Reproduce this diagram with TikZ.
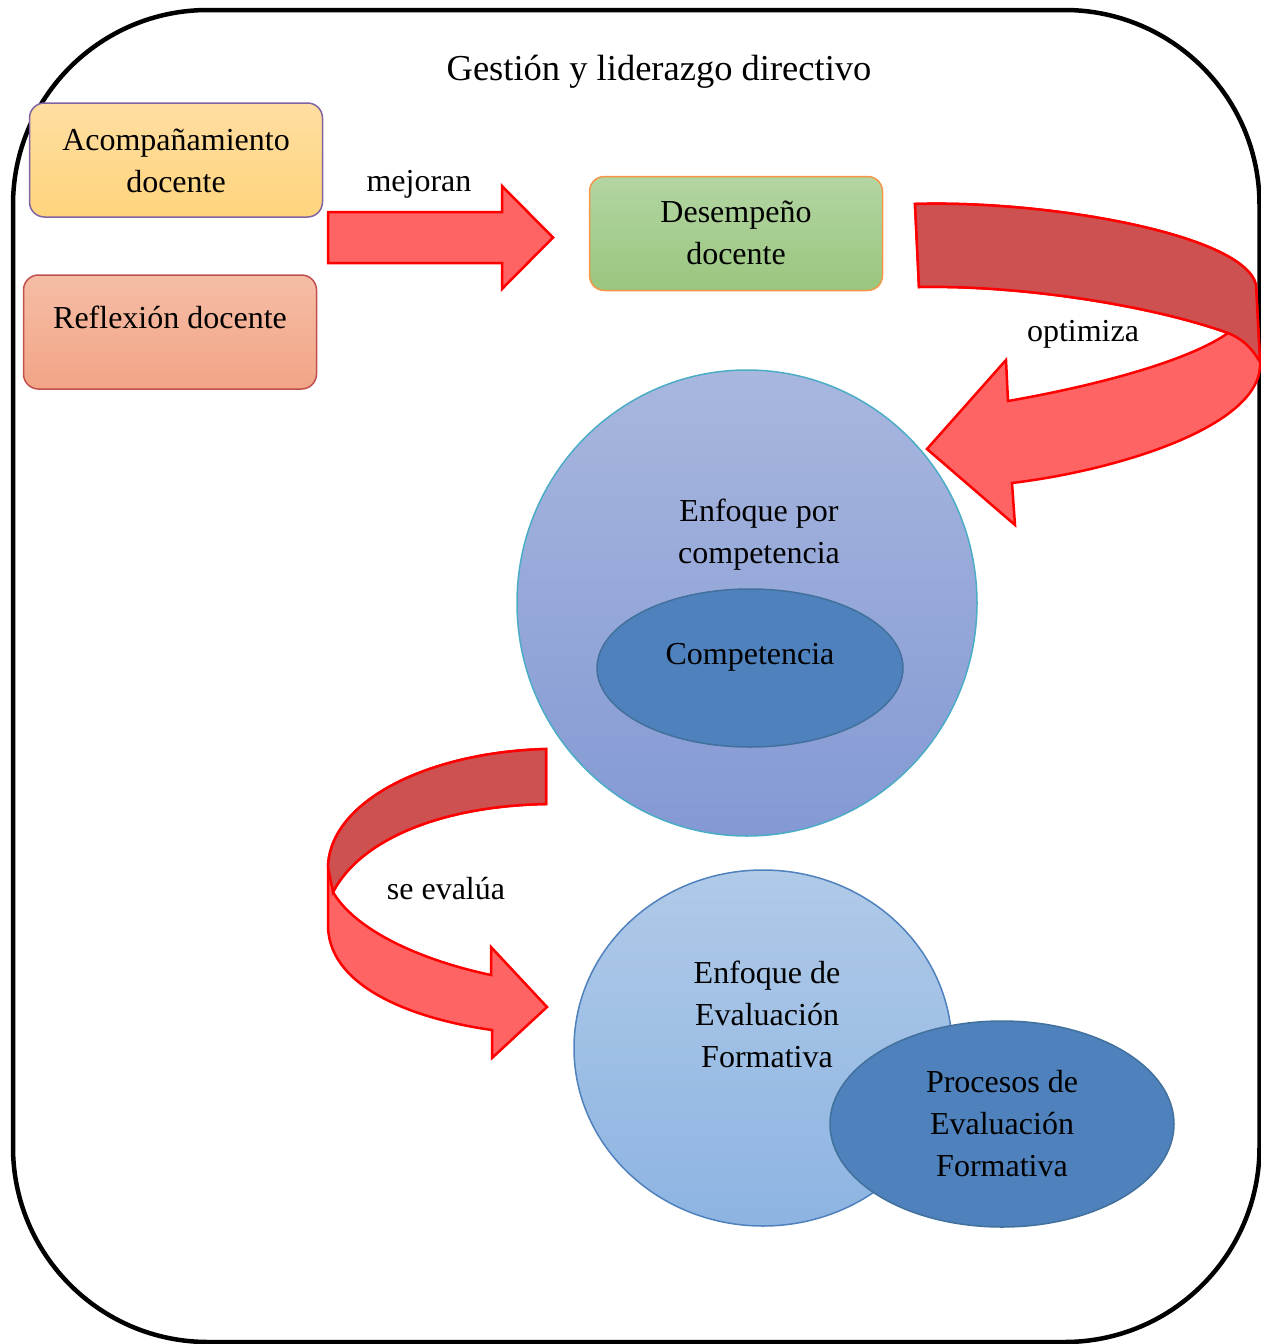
\documentclass[tikz,border=0pt]{standalone}
\usepackage{fontspec}
\setmainfont{Liberation Serif}
\usetikzlibrary{shapes.geometric}
\definecolor{arrowlight}{HTML}{FF6464}
\definecolor{arrowdark}{HTML}{CD5151}
\definecolor{acoTop}{HTML}{FFDEA2}
\definecolor{acoBot}{HTML}{FFD47C}
\definecolor{acoLine}{HTML}{8064A2}
\definecolor{refTop}{HTML}{F5BDA5}
\definecolor{refBot}{HTML}{F2A486}
\definecolor{refLine}{HTML}{C0504D}
\definecolor{desTop}{HTML}{B3D5A3}
\definecolor{desBot}{HTML}{9AC67E}
\definecolor{desLine}{HTML}{F79646}
\definecolor{cOneTop}{HTML}{A8B7DE}
\definecolor{cOneBot}{HTML}{8499D4}
\definecolor{cOneLine}{HTML}{4BACC6}
\definecolor{cTwoTop}{HTML}{B0CAE8}
\definecolor{cTwoBot}{HTML}{8DB4E2}
\definecolor{cTwoLine}{HTML}{4F81BD}
\definecolor{innerFill}{HTML}{4F81BD}
\definecolor{innerLine}{HTML}{41719C}
\begin{document}
\begin{tikzpicture}[x=1pt,y=-1pt,
  txt/.style={font=\fontsize{32}{42}\selectfont, align=center, inner sep=0pt},
  boxnode/.style={rounded corners=15pt, line width=1.5pt, minimum width=293pt, minimum height=114pt, inner sep=0pt},
  blockarrow/.style={draw=red, line width=2.5pt, line join=miter},
  bubble/.style={ellipse, line width=1.5pt, inner sep=0pt}
]
\useasboundingbox (0,0) rectangle (1261,1344);
% frame
\draw[line width=4.5pt, rounded corners=195pt] (13,10) rectangle (1259.5,1342);
\node[txt, font=\fontsize{36.5}{42}\selectfont] (title) at (659,72) {Gestión y liderazgo directivo};

% boxes
\node[boxnode, draw=acoLine, top color=acoTop, bottom color=acoBot] (aco) at (176,160) {};
\node[txt] (acotxt) at (176,161) {Acompañamiento\\docente};
\node[boxnode, draw=refLine, top color=refTop, bottom color=refBot] (ref) at (170,332) {};
\node[txt] (reftxt) at (170,317) {Reflexión docente};
\node[boxnode, draw=desLine, top color=desTop, bottom color=desBot] (des) at (736,233.5) {};
\node[txt] (destxt) at (736,233) {Desempeño\\docente};

% straight arrow
\filldraw[blockarrow, fill=arrowlight] (328,212) -- (502,212) -- (502,186) -- (553,237.5) -- (502,289) -- (502,263) -- (328,263) -- cycle;
\node[txt] (mej) at (419,184) {mejoran};

% circle 1
\node[bubble, draw=cOneLine, top color=cOneTop, bottom color=cOneBot, minimum width=460pt, minimum height=466pt] (c1) at (747,603) {};
\node[txt] (c1txt) at (759,535) {Enfoque por\\competencia};
\node[bubble, draw=innerLine, fill=innerFill, minimum width=306pt, minimum height=158pt] (e1) at (750,668) {};
\node[txt] (e1txt) at (750,657) {Competencia};

% circle 2
\node[bubble, draw=cTwoLine, top color=cTwoTop, bottom color=cTwoBot, minimum width=378pt, minimum height=356pt] (c2) at (763,1048) {};
\node[txt] (c2txt) at (767,1014) {Enfoque de\\Evaluación\\Formativa};
\node[bubble, draw=innerLine, fill=innerFill, minimum width=344pt, minimum height=206pt] (e2) at (1002,1124) {};
\node[txt] (e2txt) at (1002,1124) {Procesos de\\Evaluación\\Formativa};

% curved arrow 1 (optimiza)
\filldraw[blockarrow, fill=arrowlight] (915,204) .. controls (1050,200) and (1245,235) .. (1256,285) -- (1260,362) .. controls (1264,425) and (1120,470) .. (1012,483) -- (1015,525) -- (927,449) -- (1006,360) -- (1008,401) .. controls (1100,385) and (1190,360) .. (1228,333) .. controls (1150,305) and (1020,285) .. (919,287) -- cycle;
\filldraw[blockarrow, fill=arrowdark] (915,204) .. controls (1050,200) and (1245,235) .. (1256,285) -- (1260,362) .. controls (1250,345) and (1240,338) .. (1228,333) .. controls (1150,305) and (1020,285) .. (919,287) -- cycle;
\node[txt] (opt) at (1083,334) {optimiza};

% curved arrow 2 (se evalua)
\filldraw[blockarrow, fill=arrowlight] (546,749) .. controls (430,752) and (330,800) .. (328,867) -- (328,927) .. controls (330,990) and (420,1020) .. (492,1030) -- (492,1058) -- (547,1007) -- (491,947) -- (491,975) .. controls (420,960) and (355,930) .. (333,892) .. controls (360,840) and (440,806) .. (546,804) -- cycle;
\filldraw[blockarrow, fill=arrowdark] (546,749) .. controls (430,752) and (330,800) .. (328,867) -- (333,892) .. controls (360,840) and (440,806) .. (546,804) -- cycle;
\node[txt] (eva) at (446,889) {se evalúa};
\end{tikzpicture}
\end{document}
